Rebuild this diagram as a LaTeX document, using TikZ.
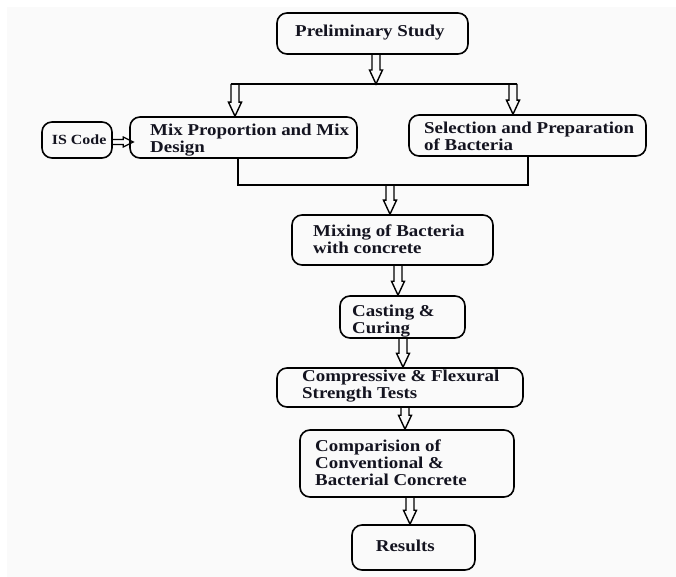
\documentclass[tikz,border=0pt]{standalone}
\usepackage{fontspec}
\setmainfont{Liberation Serif}[FakeStretch=1.14]
\usetikzlibrary{calc}
\definecolor{txtc}{HTML}{141420}
\definecolor{bgc}{HTML}{FAFAFA}
\tikzset{
  box/.style={draw=black, line width=1.6pt, rounded corners=10pt, inner sep=0pt},
  txt/.style={anchor=west, inner sep=0pt, align=left, text=txtc,
    font=\fontsize{16.6}{17}\selectfont\bfseries},
  harrow/.style={draw=black, line width=1.4pt, line join=miter},
  bus/.style={draw=black, line width=1.8pt},
}
% hollow arrow pointing down, x taken from #1, tip at the y of #2
\newcommand\hdown[2]{\draw[harrow] let \p1=(#1), \p2=(#2) in
  (\x1-4pt,\y1) -- (\x1-4pt,\y2+14pt) -- (\x1-6.5pt,\y2+14pt) -- (\x1,\y2)
  -- (\x1+6.5pt,\y2+14pt) -- (\x1+4pt,\y2+14pt) -- (\x1+4pt,\y1);}
% hollow arrow pointing right, y taken from #1, tip at the x of #2
\newcommand\hright[2]{\draw[harrow, line width=1.2pt] let \p1=(#1), \p2=(#2) in
  (\x1,\y1-2.5pt) -- (\x2-10pt,\y1-2.5pt) -- (\x2-10pt,\y1-5pt) -- (\x2,\y1)
  -- (\x2-10pt,\y1+5pt) -- (\x2-10pt,\y1+2.5pt) -- (\x1,\y1+2.5pt);}
\begin{document}
\begin{tikzpicture}[x=1pt, y=-1pt]
\useasboundingbox (0,0) rectangle (676,577);
\fill[bgc] (7,7) rectangle (676,577);

% boxes
\node[box, minimum width=191pt, minimum height=41pt] (ps) at (372.5,33.5) {};
\node[box, minimum width=70pt, minimum height=36pt] (is) at (77,140) {};
\node[box, minimum width=227pt, minimum height=41pt] (mix) at (243.5,137.5) {};
\node[box, minimum width=237pt, minimum height=41pt] (sel) at (527.5,135.5) {};
\node[box, minimum width=201pt, minimum height=50pt] (mixing) at (392.5,240) {};
\node[box, minimum width=125pt, minimum height=42pt] (casting) at (402.5,317) {};
\node[box, minimum width=246pt, minimum height=39pt] (comp) at (400,387.5) {};
\node[box, minimum width=214pt, minimum height=67pt] (compar) at (407,463.5) {};
\node[box, minimum width=123pt, minimum height=45pt] (res) at (413.5,547.5) {};

% texts
\node[txt] (psT) at (295,32.2) {Preliminary Study};
\node[txt, font=\fontsize{14}{15}\selectfont\bfseries] (isT) at (51.7,139.3) {IS Code};
\node[txt] (mixT) at (150,139.7) {Mix Proportion and Mix\\Design};
\node[txt] (selT) at (424,135.9) {Selection and Preparation\\of Bacteria};
\node[txt] (mixingT) at (313,239.6) {Mixing of Bacteria\\with concrete};
\node[txt] (castingT) at (352,321.4) {Casting \&\\Curing};
\node[txt] (compT) at (302,386.4) {Compressive \& Flexural\\Strength Tests};
\node[txt] (comparT) at (315,463.1) {Comparision of\\Conventional \&\\Bacterial Concrete};
\node[txt] (resT) at (375.7,546) {Results};

% bus coordinates
\coordinate (busM) at (376,84);
\coordinate (busL) at (235,84);
\coordinate (busR) at (513,84);
\coordinate (jL) at (238,185);
\coordinate (jR) at (528,185);
\coordinate (jM) at (390,185);

% connectors
\hdown{ps.south -| busM}{busM}
\draw[bus] ([xshift=-4pt]busL) -- ([xshift=4pt]busR);
\hdown{busL}{mix.north}
\hdown{busR}{sel.north}
\hright{[yshift=-2pt]is.east}{[xshift=4pt]mix.west}
\draw[bus] (mix.south -| jL) -- (jL) -- (jR) -- (sel.south -| jR);
\hdown{jM}{mixing.north}
\hdown{[xshift=5.5pt]mixing.south}{casting.north}
\hdown{[xshift=0.5pt]casting.south}{comp.north}
\hdown{[xshift=5pt]comp.south}{compar.north}
\hdown{[xshift=3pt]compar.south}{res.north}
\end{tikzpicture}
\end{document}
